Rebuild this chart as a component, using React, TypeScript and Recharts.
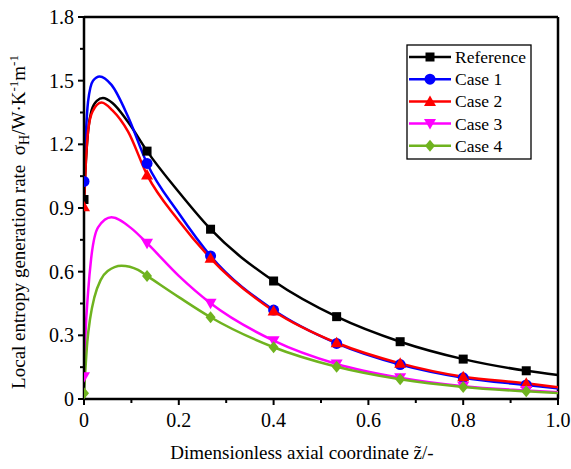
import React from "react";
import {
  LineChart,
  Line,
  XAxis,
  YAxis,
  Legend,
  ReferenceLine,
  Label,
} from "recharts";

// x positions where the symbols sit
const markerX = [0, 0.133, 0.267, 0.4, 0.533, 0.667, 0.8, 0.933];

// [z, sigma_H]
const referenceCurve = [
  [0, 0.94], [0.004, 1.12], [0.009, 1.27], [0.016, 1.36], [0.027, 1.405],
  [0.04, 1.418], [0.06, 1.395], [0.093, 1.305], [0.133, 1.168], [0.2, 0.975],
  [0.267, 0.8], [0.4, 0.556], [0.533, 0.388], [0.667, 0.27], [0.8, 0.188],
  [0.933, 0.133], [1, 0.113],
];
const case1Curve = [
  [0, 1.025], [0.004, 1.25], [0.0085, 1.4], [0.019, 1.5], [0.033, 1.52],
  [0.058, 1.48], [0.093, 1.33], [0.133, 1.11], [0.2, 0.875], [0.267, 0.674],
  [0.4, 0.419], [0.533, 0.262], [0.667, 0.162], [0.8, 0.1], [0.933, 0.066],
  [1, 0.05],
];
const case2Curve = [
  [0, 0.906], [0.004, 1.12], [0.0085, 1.26], [0.018, 1.355], [0.037, 1.397],
  [0.06, 1.36], [0.093, 1.26], [0.133, 1.056], [0.2, 0.84], [0.267, 0.663],
  [0.4, 0.415], [0.533, 0.265], [0.667, 0.168], [0.8, 0.105], [0.933, 0.074],
  [1, 0.055],
];
const case3Curve = [
  [0, 0.105], [0.003, 0.3], [0.0085, 0.5], [0.015, 0.66], [0.03, 0.81],
  [0.058, 0.856], [0.1, 0.804], [0.133, 0.734], [0.2, 0.58], [0.267, 0.451],
  [0.4, 0.275], [0.533, 0.165], [0.667, 0.1], [0.8, 0.06], [0.933, 0.04],
  [1, 0.032],
];
const case4Curve = [
  [0, 0.027], [0.003, 0.14], [0.007, 0.27], [0.013, 0.38], [0.022, 0.48],
  [0.035, 0.56], [0.05, 0.603], [0.079, 0.628], [0.114, 0.608], [0.133, 0.58],
  [0.2, 0.48], [0.267, 0.385], [0.4, 0.244], [0.533, 0.152], [0.667, 0.093],
  [0.8, 0.057], [0.933, 0.036], [1, 0.028],
];

const seriesNames = ["Reference", "Case 1", "Case 2", "Case 3", "Case 4"];
const seriesColors = ["#000000", "#0000ff", "#ff0000", "#ff00ff", "#6fb31f"];
const seriesShapes = ["square", "circle", "triangle", "triangleDown", "diamond"];
const seriesCurves = [referenceCurve, case1Curve, case2Curve, case3Curve, case4Curve];

const xMajor = [0, 0.2, 0.4, 0.6, 0.8, 1.0];
const xMinor = [0.1, 0.3, 0.5, 0.7, 0.9];
const yMajor = [0, 0.3, 0.6, 0.9, 1.2, 1.5, 1.8];
const yMinor = [0.15, 0.45, 0.75, 1.05, 1.35, 1.65];

const serif = { fontFamily: "Liberation Serif, DejaVu Serif, serif" };

const toRows = (curve: number[][]) =>
  curve.map(([x, y]) => ({ x, y, m: markerX.includes(x) }));

function Marker({ kind, cx, cy, color }: { kind: string; cx: number; cy: number; color: string }) {
  if (kind === "square") return <rect x={cx - 4.5} y={cy - 4.5} width={9} height={9} fill={color} />;
  if (kind === "circle") return <circle cx={cx} cy={cy} r={5.5} fill={color} />;
  if (kind === "triangle")
    return <polygon points={`${cx},${cy - 6} ${cx + 6},${cy + 4.5} ${cx - 6},${cy + 4.5}`} fill={color} />;
  if (kind === "triangleDown")
    return <polygon points={`${cx},${cy + 6} ${cx + 6},${cy - 4.5} ${cx - 6},${cy - 4.5}`} fill={color} />;
  return <polygon points={`${cx},${cy - 6} ${cx + 5},${cy} ${cx},${cy + 6} ${cx - 5},${cy}`} fill={color} />;
}

const XTick = (props: any) => {
  const { x, y, payload } = props;
  const v = payload.value;
  const major = xMajor.some((t) => Math.abs(t - v) < 1e-6);
  return (
    <g>
      <line x1={x} x2={x} y1={y} y2={y + (major ? 6 : 4)} stroke="#000" strokeWidth={2} />
      {major && (
        <text x={x} y={y + 28} textAnchor="middle" fontSize={20} style={serif} fill="#000">
          {v === 0 ? "0" : v.toFixed(1)}
        </text>
      )}
    </g>
  );
};

const YTick = (props: any) => {
  const { x, y, payload } = props;
  const v = payload.value;
  const major = yMajor.some((t) => Math.abs(t - v) < 1e-6);
  return (
    <g>
      <line x1={x} x2={x - (major ? 6 : 4)} y1={y} y2={y} stroke="#000" strokeWidth={2} />
      {major && (
        <text x={x - 10} y={y + 7} textAnchor="end" fontSize={20} style={serif} fill="#000">
          {v === 0 ? "0" : v.toFixed(1)}
        </text>
      )}
    </g>
  );
};

const LegendBox = () => (
  <svg width={126} height={116} style={{ display: "block" }}>
    <rect x={1} y={1} width={124} height={114} fill="#fff" stroke="#000" strokeWidth={1.3} />
    {seriesNames.map((name, i) => {
      const cy = 13 + i * 22.2;
      return (
        <g key={name}>
          <line x1={3} x2={45} y1={cy} y2={cy} stroke={seriesColors[i]} strokeWidth={2.5} />
          <Marker kind={seriesShapes[i]} cx={24} cy={cy} color={seriesColors[i]} />
          <text x={49} y={cy + 6} fontSize={17.5} style={serif} fill="#000">
            {name}
          </text>
        </g>
      );
    })}
  </svg>
);

export default function App() {
  return (
    <div style={{ position: "absolute", left: 0, top: 0, background: "#fff" }}>
      <LineChart width={571} height={469} margin={{ top: 17, right: 13, bottom: 0, left: 0 }}>
        <XAxis
          type="number"
          dataKey="x"
          domain={[0, 1]}
          ticks={[...xMajor, ...xMinor].sort((a, b) => a - b)}
          allowDataOverflow
          height={70}
          tickSize={0}
          tickMargin={0}
          tick={<XTick />}
          axisLine={{ stroke: "#000", strokeWidth: 2.5 }}
        >
          <Label
            content={() => (
              <text x={302} y={459} textAnchor="middle" fontSize={19} style={serif} fill="#000">
                Dimensionless axial coordinate z&#771;/-
              </text>
            )}
          />
        </XAxis>
        <YAxis
          type="number"
          domain={[0, 1.8]}
          ticks={[...yMajor, ...yMinor].sort((a, b) => a - b)}
          allowDataOverflow
          width={84}
          tickSize={0}
          tickMargin={0}
          tick={<YTick />}
          axisLine={{ stroke: "#000", strokeWidth: 2.5 }}
        >
          <Label
            content={() => (
              <text
                x={25}
                y={222}
                transform="rotate(-90, 25, 222)"
                textAnchor="middle"
                fontSize={19}
                style={serif}
                fill="#000"
              >
                {"Local entropy generation rate\u00a0\u00a0σ"}
                <tspan dy={4} fontSize={14}>H</tspan>
                <tspan dy={-4}>/W·K</tspan>
                <tspan dy={-7} fontSize={13}>-1</tspan>
                <tspan dy={7}>m</tspan>
                <tspan dy={-7} fontSize={13}>-1</tspan>
              </text>
            )}
          />
        </YAxis>
        <ReferenceLine y={1.8} stroke="#000" strokeWidth={2.5} />
        <ReferenceLine x={1} stroke="#000" strokeWidth={2.5} />
        {seriesNames.map((name, i) => (
          <Line
            key={name}
            name={name}
            data={toRows(seriesCurves[i])}
            dataKey="y"
            type="monotone"
            stroke={seriesColors[i]}
            strokeWidth={2.5}
            isAnimationActive={false}
            activeDot={false}
            dot={(p: any) =>
              p.payload.m ? (
                <Marker key={`${name}-${p.index}`} kind={seriesShapes[i]} cx={p.cx} cy={p.cy} color={seriesColors[i]} />
              ) : (
                <g key={`${name}-${p.index}`} />
              )
            }
          />
        ))}
        <Legend
          layout="vertical"
          align="center"
          verticalAlign="middle"
          content={() => <LegendBox />}
          wrapperStyle={{ left: 406, top: 44, width: 126, height: 116 }}
        />
      </LineChart>
    </div>
  );
}
